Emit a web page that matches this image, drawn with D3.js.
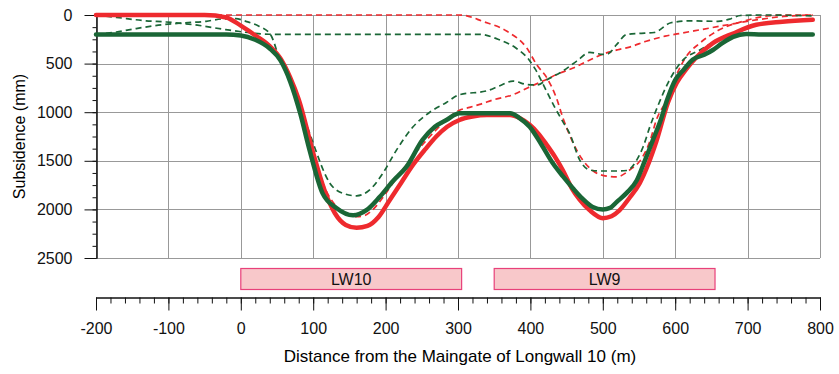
<!DOCTYPE html>
<html lang="en">
<head>
<meta charset="UTF-8">
<title>Subsidence</title>
<style>
    body { margin: 0; background: #fff; }
    svg { font-family: "Liberation Sans", Arial, sans-serif; }
    .grid line { stroke: #999; stroke-width: 1; }
    .axis text { font-size: 16px; fill: #111; }
    .axis path, .axis line { stroke: #111; }
</style>
</head>
<body>
<svg id="chart"></svg>
<script src="https://d3js.org/d3.v7.min.js"></script>
<script>
    // Data: [distance (m), subsidence (mm)]
    var redTotal = [[-200, 0], [-100, 0], [-50, 0], [-20, 25], [0, 110], [20, 210], [40, 320], [55, 450], [68, 640],
        [80, 870], [100, 1420], [115, 1790], [130, 2040], [145, 2160], [160, 2190], [175, 2170], [190, 2080],
        [206, 1900], [222, 1720], [238, 1540], [255, 1380], [270, 1250], [285, 1150], [302, 1080], [320, 1045],
        [340, 1030], [372, 1030], [385, 1060], [399, 1130], [411, 1220], [422, 1330], [434, 1460], [445, 1600],
        [457, 1780], [468, 1900], [482, 2010], [500, 2090], [512, 2070], [523, 2010], [537, 1880], [551, 1730],
        [563, 1530], [574, 1300], [590, 900], [602, 700], [615, 560], [630, 430], [652, 290], [680, 190],
        [712, 100], [748, 70], [790, 50]];

    var greenTotal = [[-200, 200], [-100, 200], [-20, 200], [0, 210], [20, 255], [40, 345], [55, 470], [68, 680],
        [82, 1010], [95, 1390], [113, 1835], [132, 1985], [155, 2060], [174, 2005], [192, 1870], [210, 1710],
        [229, 1560], [251, 1285], [268, 1150], [284, 1080], [302, 1010], [372, 1010], [385, 1060], [399, 1150],
        [415, 1330], [431, 1525], [445, 1660], [459, 1785], [472, 1890], [486, 1975], [500, 2000], [510, 1985],
        [519, 1925], [533, 1830], [547, 1700], [558, 1500], [569, 1290], [580, 1080], [589, 870], [600, 670],
        [612, 560], [624, 460], [640, 410], [652, 360], [665, 290], [680, 225], [698, 195], [720, 200], [790, 200]];

    var redLW10 = [[-200, 0], [-100, 0], [-50, 0], [-20, 25], [0, 110], [20, 210], [40, 320], [55, 450], [68, 640],
        [80, 870], [100, 1420], [115, 1760], [132, 1970], [146, 2050], [160, 2075], [172, 2060], [182, 2005],
        [196, 1880], [210, 1730], [224, 1590], [238, 1450], [255, 1300], [270, 1180], [285, 1070], [302, 980],
        [316, 950], [330, 920], [350, 870], [376, 820], [396, 750], [417, 680], [440, 600], [459, 545], [480, 470],
        [505, 390], [521, 357], [537, 330], [560, 270], [586, 218], [610, 185], [636, 150], [673, 100], [714, 48],
        [750, 15], [773, 5], [790, 0]];

    var redLW9 = [[-200, 0], [100, 0], [300, 0], [307, 2], [334, 65], [367, 165], [395, 340], [409, 515],
        [423, 650], [436, 855], [445, 1060], [458, 1300], [472, 1490], [486, 1600], [500, 1650], [519, 1665],
        [537, 1595], [555, 1460], [565, 1300], [574, 1080], [588, 875], [597, 700], [615, 430], [634, 290],
        [659, 160], [696, 60], [728, 10], [760, 0], [790, 0]];

    var greenA = [[-200, 0], [-172, 24], [-131, 60], [-103, 72], [-60, 105], [-21, 150], [15, 185], [39, 198],
        [60, 200], [200, 200], [330, 200], [357, 255], [380, 340], [398, 460], [407, 560], [420, 750], [434, 955],
        [445, 1100], [454, 1215], [468, 1490], [482, 1595], [495, 1605], [520, 1605], [533, 1600], [547, 1490],
        [556, 1350], [565, 1150], [578, 900], [590, 700], [610, 470], [634, 360], [650, 290], [666, 225],
        [680, 195], [700, 200], [790, 200]];

    var greenB = [[-200, 200], [-172, 175], [-145, 140], [-108, 100], [-80, 82], [-48, 65], [-25, 40], [-7, 38],
        [7, 65], [25, 115], [41, 200], [54, 460], [72, 720], [82, 945], [95, 1215], [100, 1320], [123, 1730],
        [141, 1835], [160, 1860], [178, 1800], [196, 1630], [215, 1390], [238, 1150], [261, 1000], [284, 900],
        [302, 820], [340, 780], [357, 730], [376, 680], [395, 715], [409, 720], [423, 665], [445, 575],
        [464, 475], [482, 385], [500, 405], [507, 400], [519, 305], [533, 200], [550, 190], [571, 180],
        [594, 80], [621, 60], [659, 65], [677, 38], [690, 5], [720, 0], [790, 10]];

    // Longwall panels
    var panels = ["LW10", "LW9"];
    var panelStart = [0, 350];
    var panelEnd = [305, 655];

    var xTicks = d3.range(-200, 801, 100);
    var yTicks = d3.range(0, 2501, 500);

    // Layout
    var W = 839, H = 374;
    var plotL = 96, plotR = 820, plotT = 15, plotB = 258;
    var axisY = 297;

    var red = "#ee2a2e", green = "#1a6636";

    var svg = d3.select("#chart").attr("width", W).attr("height", H);

    var x = d3.scaleLinear().domain([-200, 800]).range([plotL, plotR]);
    var y = d3.scaleLinear().domain([0, 2500]).range([plotT, plotB]);

    // Grid
    var grid = svg.append("g").attr("class", "grid");
    grid.selectAll(".v").data(xTicks).enter().append("line")
        .attr("x1", d => Math.round(x(d)) + 0.5).attr("x2", d => Math.round(x(d)) + 0.5)
        .attr("y1", plotT).attr("y2", plotB);
    grid.selectAll(".h").data(yTicks).enter().append("line")
        .attr("x1", plotL).attr("x2", plotR)
        .attr("y1", d => Math.round(y(d)) + 0.5).attr("y2", d => Math.round(y(d)) + 0.5);

    // Y axis (major + minor)
    svg.append("g").attr("class", "axis")
        .attr("transform", "translate(" + (plotL + 0.5) + ",0)")
        .call(d3.axisLeft(y).tickValues(yTicks).tickSize(12).tickSizeOuter(0).tickPadding(12)
            .tickFormat(d => String(d)));
    svg.append("g").attr("class", "axis")
        .attr("transform", "translate(" + (plotL + 0.5) + ",0)")
        .call(d3.axisLeft(y).tickValues(d3.range(0, 2501, 125)).tickSize(4).tickSizeOuter(0).tickFormat(""));

    svg.append("text")
        .attr("transform", "translate(25," + ((plotT + plotB) / 2) + ") rotate(-90)")
        .attr("text-anchor", "middle")
        .style("font-size", "16px")
        .text("Subsidence (mm)");

    // Lines
    var line = d3.line()
        .x(d => x(d[0]))
        .y(d => y(d[1]))
        .curve(d3.curveMonotoneX);

    var series = [
        { data: redLW9, color: red, dash: true },
        { data: redLW10, color: red, dash: true },
        { data: greenA, color: green, dash: true },
        { data: greenB, color: green, dash: true },
        { data: redTotal, color: red, dash: false },
        { data: greenTotal, color: green, dash: false }
    ];

    svg.append("g").selectAll("path").data(series).enter().append("path")
        .attr("d", d => line(d.data))
        .attr("fill", "none")
        .attr("stroke", d => d.color)
        .attr("stroke-width", d => d.dash ? 1.7 : 4.5)
        .attr("stroke-dasharray", d => d.dash ? "6,4" : null)
        .attr("stroke-linejoin", "round")
        .attr("stroke-linecap", d => d.dash ? "butt" : "round");

    // Panel boxes
    var boxes = svg.append("g").selectAll("g").data(panels).enter().append("g");
    boxes.append("rect")
        .attr("x", (d, i) => x(panelStart[i]))
        .attr("y", 268.5)
        .attr("width", (d, i) => x(panelEnd[i]) - x(panelStart[i]))
        .attr("height", 21)
        .attr("fill", "#f8c8ca")
        .attr("stroke", "#e8417a")
        .attr("stroke-width", 1.2);
    boxes.append("text")
        .attr("x", (d, i) => (x(panelStart[i]) + x(panelEnd[i])) / 2)
        .attr("y", 285)
        .attr("text-anchor", "middle")
        .style("font-size", "16px")
        .attr("fill", "#111")
        .text(d => d);

    // Bottom axis (major + minor)
    svg.append("g").attr("class", "axis")
        .attr("transform", "translate(0," + (axisY + 0.5) + ")")
        .call(d3.axisBottom(x).tickValues(xTicks).tickSize(13).tickSizeOuter(0).tickPadding(12)
            .tickFormat(d => String(d)));
    svg.append("g").attr("class", "axis")
        .attr("transform", "translate(0," + (axisY + 0.5) + ")")
        .call(d3.axisBottom(x).tickValues(d3.range(-200, 801, 20)).tickSize(6).tickSizeOuter(0).tickFormat(""));

    svg.append("text")
        .attr("x", (plotL + plotR) / 2 + 2)
        .attr("y", 362)
        .attr("text-anchor", "middle")
        .style("font-size", "17px")
        .text("Distance from the Maingate of Longwall 10 (m)");
</script>
</body>
</html>
